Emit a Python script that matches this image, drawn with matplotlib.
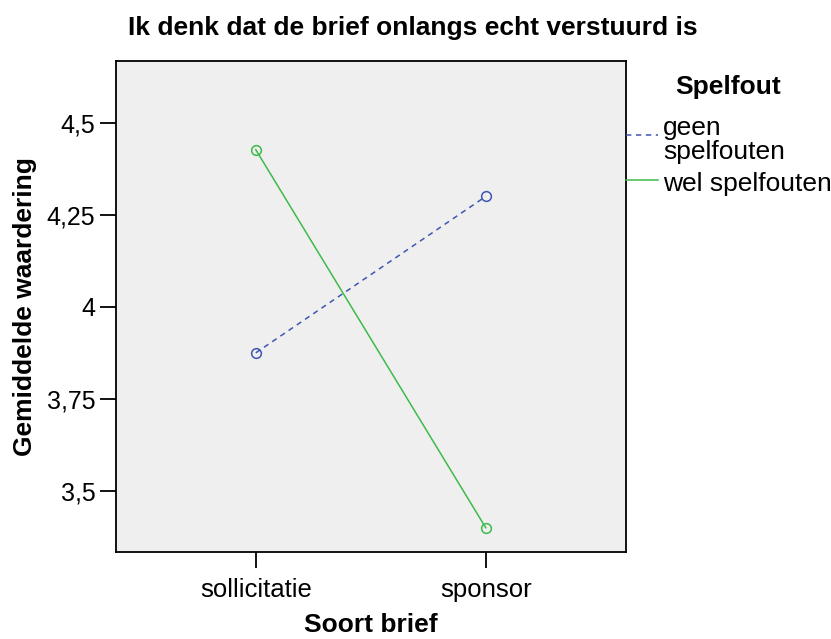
import matplotlib.pyplot as plt
from matplotlib.lines import Line2D

plt.rcParams['font.family'] = ['Liberation Sans', 'DejaVu Sans']

# data
categories = ['sollicitatie', 'sponsor']
geen_spelfouten = [3.875, 4.30]
wel_spelfouten = [4.427, 3.40]
yticks = [3.5, 3.75, 4.0, 4.25, 4.5]
ytick_labels = ['3,5', '3,75', '4', '4,25', '4,5']
series_labels = ['geen\nspelfouten', 'wel spelfouten']

blue = '#3d56b0'
green = '#3dbb4a'
dash = (0, (3.5, 3))

W, H = 831, 639
fig = plt.figure(figsize=(W/100, H/100), dpi=100)
ax = fig.add_axes([115.5/W, 1-552/H, (626-115.5)/W, (552-61)/H])
ax.set_facecolor('#efefef')

x = range(len(categories))
ax.plot(x, geen_spelfouten, color=blue, linestyle=dash, linewidth=1.1,
        marker='o', markersize=7, markerfacecolor='none', markeredgewidth=1.1)
ax.plot(x, wel_spelfouten, color=green, linewidth=1.1,
        marker='o', markersize=7, markerfacecolor='none', markeredgewidth=1.1)

ax.set_xlim(-0.61, 1.61)
ax.set_ylim(3.334, 4.668)
ax.set_xticks(list(x))
ax.set_xticklabels(categories, fontsize=18.5)
ax.set_yticks(yticks)
ax.set_yticklabels(ytick_labels, fontsize=18)
ax.tick_params(length=11.5, width=1.3, pad=3)
ax.tick_params(axis='x', pad=7)
for s in ax.spines.values():
    s.set_linewidth(1.3)

ax.set_xlabel('Soort brief', fontsize=19, fontweight='bold', labelpad=8)
ax.set_ylabel('Gemiddelde waardering', fontsize=19, fontweight='bold', labelpad=7)
fig.text(0.497, 1-28/H, 'Ik denk dat de brief onlangs echt verstuurd is',
         fontsize=19, fontweight='bold', ha='center', va='center')

# legend drawn by hand: lines only, title centred above
fig.text(728/W, 1-87/H, 'Spelfout', fontsize=19, fontweight='bold',
         ha='center', va='center')
leg_rows = [(135, 140, blue, dash), (180, 184, green, '-')]
for (ly, ty, col, ls), lab in zip(leg_rows, series_labels):
    fig.add_artist(Line2D([626/W, 658/W], [1-ly/H, 1-ly/H], color=col,
                          linestyle=ls, linewidth=1.1))
    fig.text(663/W, 1-ty/H, lab, fontsize=19, ha='left', va='center',
             linespacing=0.95)

fig.savefig('out.png', dpi=100)
